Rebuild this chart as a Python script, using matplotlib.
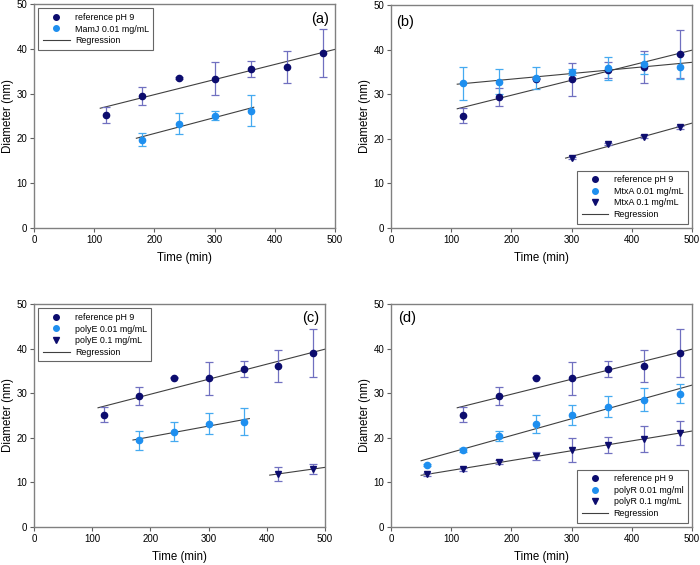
import numpy as np
import matplotlib
matplotlib.use("Agg")
import matplotlib.pyplot as plt
from matplotlib.lines import Line2D

plt.rcParams["font.family"] = ["Liberation Sans", "DejaVu Sans"]

# reference pH 9 (same in every panel)
ref_t = [120, 180, 240, 300, 360, 420, 480]
ref_d = [25.2, 29.4, 33.5, 33.3, 35.5, 36.0, 39.0]
ref_err = [1.7, 2.0, 0.2, 3.7, 1.8, 3.6, 5.3]

# (a) MamJ
mamj_t = [180, 240, 300, 360]
mamj_d = [19.7, 23.3, 25.1, 26.2]
mamj_err = [1.4, 2.4, 1.1, 3.4]

# (b) MtxA
mtxa1_t = [120, 180, 240, 300, 360, 420, 480]
mtxa1_d = [32.4, 32.8, 33.6, 35.0, 35.8, 36.7, 36.1]
mtxa1_err = [3.7, 2.8, 2.5, 0.7, 2.6, 2.2, 2.8]
mtxa2_t = [300, 360, 420, 480]
mtxa2_d = [15.7, 18.8, 20.5, 22.6]
mtxa2_err = [0.3, 0.3, 0.3, 0.3]

# (c) polyE
polye1_t = [180, 240, 300, 360]
polye1_d = [19.4, 21.4, 23.2, 23.6]
polye1_err = [2.2, 2.1, 2.4, 3.0]
polye2_t = [420, 480]
polye2_d = [11.9, 13.0]
polye2_err = [1.5, 1.2]

# (d) polyR
polyr1_t = [60, 120, 180, 240, 300, 360, 420, 480]
polyr1_d = [13.9, 17.3, 20.4, 23.0, 25.1, 27.0, 28.5, 29.9]
polyr1_err = [0.3, 0.4, 1.1, 2.0, 2.2, 2.3, 2.6, 2.2]
polyr2_t = [60, 120, 180, 240, 300, 360, 420, 480]
polyr2_d = [11.8, 12.9, 14.6, 15.9, 17.2, 18.4, 19.7, 21.0]
polyr2_err = [0.3, 0.3, 0.4, 0.9, 2.7, 1.8, 3.0, 2.7]

NAVY = "#0c0c6e"
NAVY_ERR = "#7070c0"
LIGHT = "#1e8fef"
LIGHT_ERR = "#45aaf0"
LINE = "#404040"


def series(ax, t, d, err, kind, fit_range):
    if kind == "ref":
        color, ecolor, marker = NAVY, NAVY_ERR, "o"
    elif kind == "light":
        color, ecolor, marker = LIGHT, LIGHT_ERR, "o"
    else:
        color, ecolor, marker = NAVY, NAVY_ERR, "v"
    ax.errorbar(t, d, yerr=err, fmt=marker, color=color, ecolor=ecolor,
                markersize=4.5, elinewidth=0.9, capsize=3, capthick=0.9,
                zorder=3)
    # linear regression over the data
    k, b = np.polyfit(t, d, 1)
    xs = np.array(fit_range)
    ax.plot(xs, k * xs + b, color=LINE, lw=0.8, zorder=2)


def style(ax, label, label_pos, entries, legend_loc):
    ax.set_xlim(0, 500)
    ax.set_ylim(0, 50)
    ax.set_xticks([0, 100, 200, 300, 400, 500])
    ax.set_yticks([0, 10, 20, 30, 40, 50])
    ax.tick_params(direction="out", length=3, width=0.8, labelsize=7,
                   color="#606060", pad=2)
    for s in ax.spines.values():
        s.set_color("#808080")
        s.set_linewidth(1.0)
    ax.set_xlabel("Time (min)", fontsize=8.3, labelpad=5)
    ax.set_ylabel("Diameter (nm)", fontsize=8.3, labelpad=2)
    ax.text(label_pos[0], label_pos[1], label, transform=ax.transAxes,
            fontsize=10.5, ha="center", va="center")
    handles = []
    names = []
    for name, kind in entries:
        if kind == "ref":
            h = Line2D([], [], marker="o", ls="none", color=NAVY, markersize=4)
        elif kind == "light":
            h = Line2D([], [], marker="o", ls="none", color=LIGHT, markersize=4)
        elif kind == "tri":
            h = Line2D([], [], marker="v", ls="none", color=NAVY, markersize=4)
        else:
            h = Line2D([], [], color=LINE, lw=0.8)
        handles.append(h)
        names.append(name)
    leg = ax.legend(handles, names, loc=legend_loc, fontsize=6.4,
                    frameon=True, fancybox=False, borderaxespad=0.5,
                    handlelength=3.0, handletextpad=0.6, labelspacing=0.3,
                    borderpad=0.5)
    leg.get_frame().set_edgecolor("#404040")
    leg.get_frame().set_linewidth(0.8)


fig = plt.figure(figsize=(7.0, 5.65), dpi=100)

ax_a = fig.add_axes([0.0486, 0.5965, 0.43, 0.3965])
ax_b = fig.add_axes([0.5586, 0.5965, 0.4300, 0.3947])
ax_c = fig.add_axes([0.0486, 0.0673, 0.4157, 0.3947])
ax_d = fig.add_axes([0.5586, 0.0673, 0.4300, 0.3947])

# (a)
series(ax_a, ref_t, ref_d, ref_err, "ref", [110, 500])
series(ax_a, mamj_t, mamj_d, mamj_err, "light", [170, 365])
style(ax_a, "(a)", (0.95, 0.935),
      [("reference pH 9", "ref"), ("MamJ 0.01 mg/mL", "light"),
       ("Regression", "line")], "upper left")

# (b)
series(ax_b, ref_t, ref_d, ref_err, "ref", [110, 500])
series(ax_b, mtxa1_t, mtxa1_d, mtxa1_err, "light", [110, 500])
series(ax_b, mtxa2_t, mtxa2_d, mtxa2_err, "tri", [290, 500])
style(ax_b, "(b)", (0.045, 0.925),
      [("reference pH 9", "ref"), ("MtxA 0.01 mg/mL", "light"),
       ("MtxA 0.1 mg/mL", "tri"), ("Regression", "line")], "lower right")

# (c)
series(ax_c, ref_t, ref_d, ref_err, "ref", [110, 500])
series(ax_c, polye1_t, polye1_d, polye1_err, "light", [170, 370])
series(ax_c, polye2_t, polye2_d, polye2_err, "tri", [405, 500])
style(ax_c, "(c)", (0.95, 0.935),
      [("reference pH 9", "ref"), ("polyE 0.01 mg/mL", "light"),
       ("polyE 0.1 mg/mL", "tri"), ("Regression", "line")], "upper left")

# (d)
series(ax_d, ref_t, ref_d, ref_err, "ref", [110, 500])
series(ax_d, polyr1_t, polyr1_d, polyr1_err, "light", [50, 500])
series(ax_d, polyr2_t, polyr2_d, polyr2_err, "tri", [50, 500])
style(ax_d, "(d)", (0.055, 0.935),
      [("reference pH 9", "ref"), ("polyR 0.01 mg/ml", "light"),
       ("polyR 0.1 mg/mL", "tri"), ("Regression", "line")], "lower right")

fig.savefig("out.png", dpi=100)
